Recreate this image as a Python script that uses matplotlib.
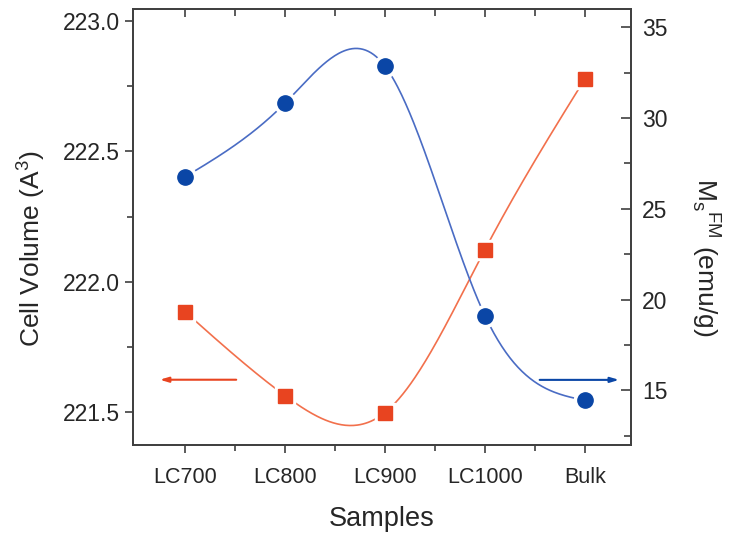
import matplotlib
matplotlib.use("Agg")
import matplotlib.pyplot as plt
import numpy as np

plt.rcParams['font.family'] = ['Liberation Sans', 'DejaVu Sans']
plt.rcParams['mathtext.fontset'] = 'custom'
plt.rcParams['mathtext.rm'] = 'Liberation Sans'

samples = ['LC700', 'LC800', 'LC900', 'LC1000', 'Bulk']
cell_volume = [221.885, 221.563, 221.498, 222.123, 222.778]
ms_fm = [26.76, 30.82, 32.86, 19.12, 14.45]

red_mk = '#e84420'
red_ln = '#f2704c'
blue_mk = '#0a46a6'
blue_ln = '#4a6cc4'


def natural_spline(x, y, n=300):
	# plain natural cubic spline, no scipy around
	x = np.asarray(x, float)
	y = np.asarray(y, float)
	k = len(x)
	h = np.diff(x)
	A = np.zeros((k, k))
	b = np.zeros(k)
	A[0, 0] = 1
	A[-1, -1] = 1
	for i in range(1, k - 1):
		A[i, i - 1] = h[i - 1]
		A[i, i] = 2 * (h[i - 1] + h[i])
		A[i, i + 1] = h[i]
		b[i] = 3 * ((y[i + 1] - y[i]) / h[i] - (y[i] - y[i - 1]) / h[i - 1])
	c = np.linalg.solve(A, b)
	xs = np.linspace(x[0], x[-1], n)
	ys = np.empty_like(xs)
	for j, xv in enumerate(xs):
		i = min(np.searchsorted(x, xv, side='right') - 1, k - 2)
		dx = xv - x[i]
		bi = (y[i + 1] - y[i]) / h[i] - h[i] * (2 * c[i] + c[i + 1]) / 3
		di = (c[i + 1] - c[i]) / (3 * h[i])
		ys[j] = y[i] + bi * dx + c[i] * dx ** 2 + di * dx ** 3
	return xs, ys


xpos = np.arange(len(samples))

fig = plt.figure(figsize=(7.31, 5.36), dpi=100)
ax1 = fig.add_axes([0.182, 0.170, 0.681, 0.813])
ax2 = ax1.twinx()

# red squares -> left axis
xs, ys = natural_spline(xpos, cell_volume)
ax1.plot(xs, ys, color=red_ln, lw=1.2, zorder=2)
ax1.plot(xpos, cell_volume, 's', ms=15, color='white', zorder=3)
ax1.plot(xpos, cell_volume, 's', ms=10, color=red_mk, zorder=4)

# blue circles -> right axis
xs, ys = natural_spline(xpos, ms_fm)
ax2.plot(xs, ys, color=blue_ln, lw=1.2, zorder=2)
ax2.plot(xpos, ms_fm, 'o', ms=16, color='white', zorder=3)
ax2.plot(xpos, ms_fm, 'o', ms=11, color=blue_mk, zorder=4)

# arrows telling which axis belongs to which curve
ax1.annotate('', xy=(-0.28, 221.624), xytext=(0.54, 221.624),
			 arrowprops=dict(arrowstyle='-|>,head_length=0.5,head_width=0.15', color=red_mk, lw=1.5))
ax2.annotate('', xy=(4.37, 15.58), xytext=(3.52, 15.58),
			 arrowprops=dict(arrowstyle='-|>,head_length=0.5,head_width=0.15', color=blue_mk, lw=1.5))

ax1.set_xlim(-0.52, 4.46)
ax1.set_ylim(221.374, 223.046)
ax2.set_ylim(12.0, 36.0)

ax1.set_xticks(xpos)
ax1.set_xticklabels(samples)
ax1.set_xticks(xpos[:-1] + 0.5, minor=True)
ax1.set_yticks([221.5, 222.0, 222.5, 223.0])
ax1.set_yticks([221.75, 222.25, 222.75], minor=True)
ax1.set_yticklabels(['221.5', '222.0', '222.5', '223.0'])
ax2.set_yticks([15, 20, 25, 30, 35])
ax2.set_yticks([12.5, 17.5, 22.5, 27.5, 32.5], minor=True)

edge = '#404040'
txt = '#262626'
for ax in (ax1, ax2):
	for s in ax.spines.values():
		s.set_color(edge)
		s.set_linewidth(1.3)

ax1.tick_params(axis='x', which='both', direction='out', colors=edge,
				labelcolor=txt, labelsize=15.5, width=1.2)
ax1.tick_params(axis='x', which='major', length=6, pad=10)
ax1.tick_params(axis='x', which='minor', length=4)
ax1.tick_params(axis='y', which='both', direction='out', colors=edge,
				labelcolor=txt, labelsize=16.5, width=1.2)
ax1.tick_params(axis='y', which='major', length=6)
ax1.tick_params(axis='y', which='minor', length=4)
ax2.tick_params(axis='y', which='both', direction='in', colors=edge,
				labelcolor=txt, labelsize=16.5, width=1.2, pad=8)
ax2.tick_params(axis='y', which='major', length=7)
ax2.tick_params(axis='y', which='minor', length=5)

# top ticks point inwards like the Origin mirror ticks, via the twin's x axis
ax2.xaxis.set_visible(True)
ax2.tick_params(axis='x', which='both', bottom=False, top=True, labelbottom=False,
				labeltop=False, direction='in', width=1.2, colors=edge)
ax2.tick_params(axis='x', which='major', length=6)
ax2.tick_params(axis='x', which='minor', length=5)

ax1.set_xlabel('Samples', fontsize=19.5, color=txt, labelpad=13)
ax1.set_ylabel('Cell Volume (A$^3$)', fontsize=19, color=txt)
ax1.yaxis.set_label_coords(-0.172, 0.45)
ax2.set_ylabel(r'M$_\mathregular{s}$$^\mathregular{FM}$ (emu/g)', fontsize=19, color=txt,
			   rotation=270, va='top')
ax2.yaxis.set_label_coords(1.185, 0.43)

plt.savefig('out.png', dpi=100)
